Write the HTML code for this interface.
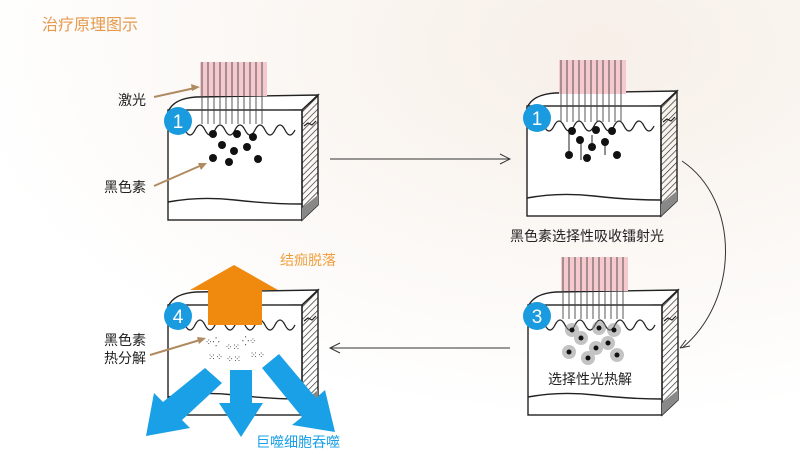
<!DOCTYPE html>
<html><head><meta charset="utf-8"><style>
html,body{margin:0;padding:0;background:#fff;}
svg{display:block;font-family:"Liberation Sans","Noto Sans CJK SC",sans-serif;}
</style></head><body>
<svg width="800" height="466" viewBox="0 0 800 466" xmlns="http://www.w3.org/2000/svg">
<defs>
<radialGradient id="bg" cx="0.75" cy="0.1" r="0.8"><stop offset="0" stop-color="#f7efe8"/><stop offset="1" stop-color="#ffffff"/></radialGradient>
<pattern id="hatch" width="4.5" height="4.5" patternUnits="userSpaceOnUse" patternTransform="rotate(-45)"><line x1="0" y1="0" x2="4.5" y2="0" stroke="#222" stroke-width="1.3"/></pattern>
<g id="block">
  <path d="M168,112 C172,102 182,98 196,97 L318,95 L302,110 Z" fill="#fff" stroke="#222" stroke-width="1.4"/>
  <rect x="168" y="110" width="134" height="110" fill="#fff" stroke="#222" stroke-width="1.4"/>
  <path d="M302,110 L318,95 L318,205 L302,220 Z" fill="url(#hatch)" stroke="#222" stroke-width="1.4"/>
  <path d="M302,208 L318,195 L318,205 L302,220 Z" fill="#888"/>
  <path d="M168,202 Q200,196 235,200 T302,204" fill="none" stroke="#222" stroke-width="1.4"/>
  <path d="M185,130 q5,10 10,0 t10,0 t10,0 t10,0 t10,0 t10,0 t10,0 t10,0 t10,0 t10,0 t10,0" fill="none" stroke="#222" stroke-width="1.3"/>
  <path d="M304,126 l4,-3 4,2 4,-4" fill="none" stroke="#222" stroke-width="1.2"/>
</g>
<g id="laser">
  <rect x="0" y="0" width="67" height="34" fill="#f6c9cf"/>
  <g stroke="#444" stroke-width="0.9">
  <line x1="2" y1="0" x2="2" y2="62"/><line x1="8" y1="0" x2="8" y2="62"/><line x1="14" y1="0" x2="14" y2="62"/><line x1="20" y1="0" x2="20" y2="62"/><line x1="26" y1="0" x2="26" y2="62"/><line x1="32" y1="0" x2="32" y2="62"/><line x1="38" y1="0" x2="38" y2="62"/><line x1="44" y1="0" x2="44" y2="62"/><line x1="50" y1="0" x2="50" y2="62"/><line x1="56" y1="0" x2="56" y2="62"/><line x1="62" y1="0" x2="62" y2="62"/>
  </g>
</g>
</defs>
<rect width="800" height="466" fill="url(#bg)"/>
<text x="42" y="30" font-size="16" fill="#e59a4e">治疗原理图示</text>

<use href="#block"/>
<use href="#laser" x="200" y="62"/>
<g fill="#111"><circle cx="213" cy="134" r="4"/><circle cx="237" cy="134" r="4"/><circle cx="253" cy="137" r="4"/><circle cx="222" cy="145" r="4"/><circle cx="234" cy="151" r="4"/><circle cx="247" cy="147" r="4"/><circle cx="213" cy="158" r="4"/><circle cx="229" cy="162" r="4"/><circle cx="258" cy="159" r="4"/></g>
<circle cx="178" cy="121" r="14" fill="#1a9be0"/><text x="178" y="128" font-size="19" fill="#fff" text-anchor="middle">1</text>
<text x="118" y="105" font-size="14" fill="#222">激光</text>
<line x1="154" y1="97" x2="195" y2="88" stroke="#b08a60" stroke-width="2"/><path d="M200,87 l-9,-3 1,7z" fill="#b08a60"/>
<text x="104" y="192" font-size="14" fill="#222">黑色素</text>
<line x1="154" y1="186" x2="202" y2="165" stroke="#b08a60" stroke-width="2"/><path d="M207,163 l-9,0 3,7z" fill="#b08a60"/>

<line x1="330" y1="159" x2="510" y2="159" stroke="#333" stroke-width="1"/><path d="M500,154 L510,159 L500,164" fill="none" stroke="#333"/>

<use href="#block" x="359" y="-4"/>
<use href="#laser" x="559" y="60"/>
<g stroke="#222" stroke-width="1"><line x1="569" y1="130" x2="569" y2="155"/><line x1="581" y1="140" x2="581" y2="160"/><line x1="592" y1="135" x2="592" y2="148"/><line x1="605" y1="140" x2="605" y2="155"/></g>
<g fill="#111"><circle cx="572" cy="131" r="4"/><circle cx="596" cy="130" r="4"/><circle cx="612" cy="131" r="4"/><circle cx="580" cy="140" r="4"/><circle cx="605" cy="142" r="4"/><circle cx="592" cy="147" r="4"/><circle cx="569" cy="155" r="4"/><circle cx="587" cy="158" r="4"/><circle cx="617" cy="155" r="4"/></g>
<circle cx="537" cy="118" r="14" fill="#1a9be0"/><text x="537" y="125" font-size="19" fill="#fff" text-anchor="middle">1</text>
<text x="587" y="241" font-size="14" fill="#222" text-anchor="middle">黑色素选择性吸收镭射光</text>

<path d="M682,161 C740,200 740,300 682,348" fill="none" stroke="#333" stroke-width="1"/>
<path d="M680,348 l10,-2 M680,348 l6,-8" stroke="#333"/>

<use href="#block" x="360" y="195"/>
<use href="#laser" x="561" y="257"/>
<g fill="#888" opacity="0.5"><circle cx="572" cy="330" r="7"/><circle cx="599" cy="328" r="7"/><circle cx="614" cy="330" r="7"/><circle cx="581" cy="338" r="7"/><circle cx="608" cy="343" r="7"/><circle cx="596" cy="348" r="7"/><circle cx="569" cy="352" r="7"/><circle cx="588" cy="358" r="7"/><circle cx="617" cy="355" r="7"/></g>
<g fill="#111"><circle cx="572" cy="330" r="2.5"/><circle cx="599" cy="328" r="2.5"/><circle cx="614" cy="330" r="2.5"/><circle cx="581" cy="338" r="2.5"/><circle cx="608" cy="343" r="2.5"/><circle cx="596" cy="348" r="2.5"/><circle cx="569" cy="352" r="2.5"/><circle cx="588" cy="358" r="2.5"/><circle cx="617" cy="355" r="2.5"/></g>
<circle cx="537" cy="316" r="14" fill="#1a9be0"/><text x="537" y="323" font-size="19" fill="#fff" text-anchor="middle">3</text>
<text x="590" y="384" font-size="14" fill="#222" text-anchor="middle">选择性光热解</text>

<line x1="330" y1="348" x2="510" y2="348" stroke="#333" stroke-width="1"/><path d="M340,343 L330,348 L340,353" fill="none" stroke="#333"/>

<use href="#block" x="0" y="195"/>
<g fill="#333" font-size="9"><text x="205" y="345">⁘⁛</text><text x="225" y="350">⁘⁙</text><text x="242" y="344">⁛⁘</text><text x="208" y="360">⁙⁘</text><text x="226" y="362">⁘⁙</text><text x="250" y="358">⁙⁘</text></g>
<path d="M208,325 L208,290 L190,290 L234,265 L278,290 L262,290 L262,325 Z" fill="#ef8a0e"/>
<text x="280" y="265" font-size="14" fill="#f0a040">结痂脱落</text>
<circle cx="178" cy="316" r="14" fill="#1a9be0"/><text x="178" y="323" font-size="19" fill="#fff" text-anchor="middle">4</text>
<text x="104" y="345" font-size="14" fill="#222">黑色素</text>
<text x="104" y="363" font-size="14" fill="#222">热分解</text>
<line x1="150" y1="355" x2="200" y2="340" stroke="#b08a60" stroke-width="2"/><path d="M206,338 l-9,-1 2,7z" fill="#b08a60"/>
<g fill="#1aa0e6">
<path d="M205,368 L222,383 L182,420 L190,428 L146,436 L154,393 L163,402 Z"/>
<path d="M230,370 L252,370 L252,403 L263,403 L241,437 L219,403 L230,403 Z"/>
<path d="M262,368 L279,354 L316,398 L325,390 L335,432 L292,425 L302,417 Z"/>
</g>
<text x="298" y="447" font-size="14" fill="#1aa0e6" text-anchor="middle">巨噬细胞吞噬</text>
</svg>
</body></html>
